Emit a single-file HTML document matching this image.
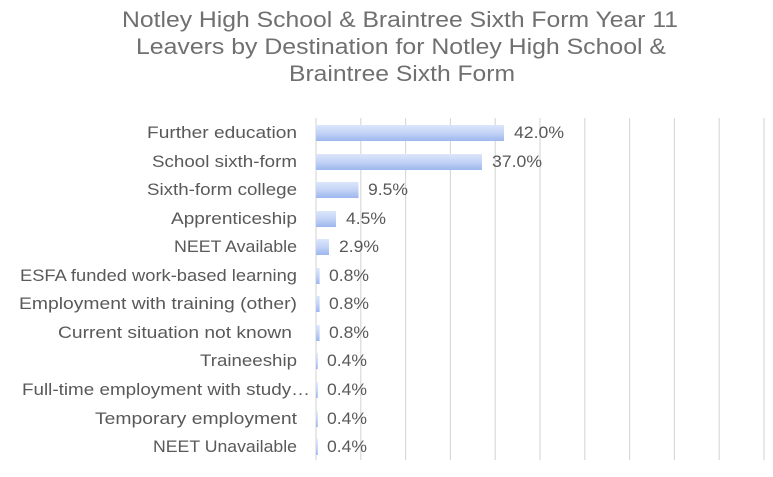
<!DOCTYPE html>
<html><head><style>
html,body{margin:0;padding:0;background:#fff;}
svg{display:block;}
</style></head><body>
<svg width="773" height="477" xmlns="http://www.w3.org/2000/svg">
<defs>
<linearGradient id="g" x1="0" y1="0" x2="0" y2="1">
<stop offset="0" stop-color="#dce6fb"/><stop offset="0.5" stop-color="#c3d3f6"/><stop offset="1" stop-color="#9db6ee"/>
</linearGradient>
</defs>
<g font-family="Liberation Sans, sans-serif" font-size="22" fill="#707070" lengthAdjust="spacingAndGlyphs">
<text x="122" y="27" textLength="556" lengthAdjust="spacingAndGlyphs">Notley High School &amp; Braintree Sixth Form Year 11</text>
<text x="136" y="54" textLength="530" lengthAdjust="spacingAndGlyphs">Leavers by Destination for Notley High School &amp;</text>
<text x="289" y="81" textLength="226" lengthAdjust="spacingAndGlyphs">Braintree Sixth Form</text>
</g>
<g stroke="#d9d9d9" stroke-width="1.2">
<line x1="360.8" y1="118" x2="360.8" y2="460"/><line x1="405.6" y1="118" x2="405.6" y2="460"/>
<line x1="450.4" y1="118" x2="450.4" y2="460"/><line x1="495.2" y1="118" x2="495.2" y2="460"/>
<line x1="540" y1="118" x2="540" y2="460"/><line x1="584.8" y1="118" x2="584.8" y2="460"/>
<line x1="629.6" y1="118" x2="629.6" y2="460"/><line x1="674.4" y1="118" x2="674.4" y2="460"/>
<line x1="719.2" y1="118" x2="719.2" y2="460"/><line x1="764" y1="118" x2="764" y2="460"/>
<line x1="316" y1="118" x2="316" y2="460"/>
</g>
<g fill="url(#g)">
<rect x="316" y="125" width="188" height="16"/>
<rect x="316" y="154" width="166" height="16"/>
<rect x="316" y="182" width="42.5" height="16"/>
<rect x="316" y="211" width="20" height="16"/>
<rect x="316" y="239" width="13" height="16"/>
<rect x="316" y="268" width="3.6" height="16"/>
<rect x="316" y="296" width="3.6" height="16"/>
<rect x="316" y="325" width="3.6" height="16"/>
<rect x="316" y="353" width="1.8" height="16"/>
<rect x="316" y="382" width="1.8" height="16"/>
<rect x="316" y="411" width="1.8" height="16"/>
<rect x="316" y="439" width="1.8" height="16"/>
</g>
<g font-family="Liberation Sans, sans-serif" font-size="17" fill="#595959">
<text x="147" y="138" textLength="150" lengthAdjust="spacingAndGlyphs">Further education</text>
<text x="152" y="167" textLength="145" lengthAdjust="spacingAndGlyphs">School sixth-form</text>
<text x="147" y="195" textLength="150" lengthAdjust="spacingAndGlyphs">Sixth-form college</text>
<text x="171" y="224" textLength="126" lengthAdjust="spacingAndGlyphs">Apprenticeship</text>
<text x="174" y="252" textLength="123" lengthAdjust="spacingAndGlyphs">NEET Available</text>
<text x="20" y="281" textLength="277" lengthAdjust="spacingAndGlyphs">ESFA funded work-based learning</text>
<text x="19" y="309" textLength="278" lengthAdjust="spacingAndGlyphs">Employment with training (other)</text>
<text x="58" y="338" textLength="234" lengthAdjust="spacingAndGlyphs">Current situation not known</text>
<text x="200" y="366" textLength="97" lengthAdjust="spacingAndGlyphs">Traineeship</text>
<text x="22" y="395" textLength="288" lengthAdjust="spacingAndGlyphs">Full-time employment with study…</text>
<text x="95" y="424" textLength="202" lengthAdjust="spacingAndGlyphs">Temporary employment</text>
<text x="153" y="452" textLength="144" lengthAdjust="spacingAndGlyphs">NEET Unavailable</text>
</g>
<g font-family="Liberation Sans, sans-serif" font-size="17" fill="#595959">
<text x="514" y="138" textLength="50" lengthAdjust="spacingAndGlyphs">42.0%</text>
<text x="492" y="167" textLength="50" lengthAdjust="spacingAndGlyphs">37.0%</text>
<text x="368" y="195" textLength="40" lengthAdjust="spacingAndGlyphs">9.5%</text>
<text x="346" y="224" textLength="40" lengthAdjust="spacingAndGlyphs">4.5%</text>
<text x="339" y="252" textLength="40" lengthAdjust="spacingAndGlyphs">2.9%</text>
<text x="329" y="281" textLength="40" lengthAdjust="spacingAndGlyphs">0.8%</text>
<text x="329" y="309" textLength="40" lengthAdjust="spacingAndGlyphs">0.8%</text>
<text x="329" y="338" textLength="40" lengthAdjust="spacingAndGlyphs">0.8%</text>
<text x="327" y="366" textLength="40" lengthAdjust="spacingAndGlyphs">0.4%</text>
<text x="327" y="395" textLength="40" lengthAdjust="spacingAndGlyphs">0.4%</text>
<text x="327" y="424" textLength="40" lengthAdjust="spacingAndGlyphs">0.4%</text>
<text x="327" y="452" textLength="40" lengthAdjust="spacingAndGlyphs">0.4%</text>
</g>
</svg>
</body></html>
